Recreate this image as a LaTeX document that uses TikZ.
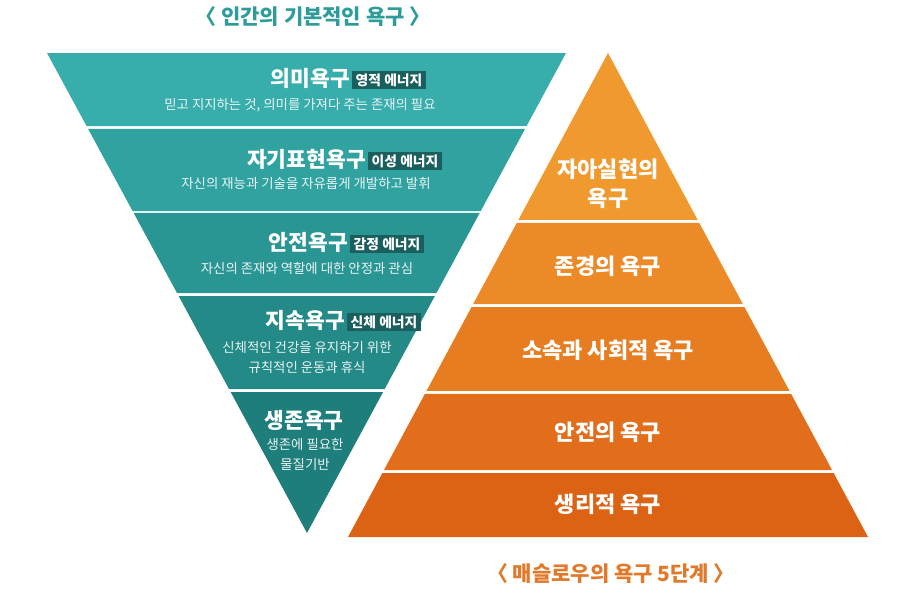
\documentclass[tikz,border=0pt]{standalone}
\usepackage{fontspec}
\newfontfamily\kr{Noto Sans CJK KR}
\usetikzlibrary{calc}
\definecolor{tA}{HTML}{37ADAC}
\definecolor{tB}{HTML}{30A2A0}
\definecolor{tC}{HTML}{2A9694}
\definecolor{tD}{HTML}{238A87}
\definecolor{tE}{HTML}{1E7E7B}
\definecolor{tagc}{HTML}{1A5F5E}
\definecolor{oA}{HTML}{F0992F}
\definecolor{oB}{HTML}{EC8A27}
\definecolor{oC}{HTML}{E77D21}
\definecolor{oD}{HTML}{E26E1B}
\definecolor{oE}{HTML}{DC6214}
\definecolor{ttl}{HTML}{2D9C9A}
\definecolor{otl}{HTML}{E07A2A}
\begin{document}
\begin{tikzpicture}[x=1pt,y=-1pt,
  head/.style={text=white,font=\kr\bfseries\fontsize{21.5}{24}\selectfont,inner sep=0pt},
  tagbox/.style={fill=tagc,text=white,font=\kr\bfseries\fontsize{13.8}{14}\selectfont,inner xsep=3.5pt,inner ysep=0pt,minimum height=18pt},
  sub/.style={text=white!92!teal,font=\kr\fontsize{13.4}{20}\selectfont,inner sep=0pt,align=center},
  pyr/.style={text=white,font=\kr\bfseries\fontsize{22}{29}\selectfont,inner sep=0pt,align=center},
  title/.style={font=\kr\bfseries\fontsize{21}{24}\selectfont,inner sep=0pt}]
\useasboundingbox (0,0) rectangle (922,614);
% teal inverted triangle
\coordinate (TL) at (47,53);
\coordinate (TR) at (566,53);
\coordinate (AP) at (307,533);
\fill[tA] ($(TL)!0!(AP)$) -- ($(TR)!0!(AP)$) -- ($(TR)!0.1521!(AP)$) -- ($(TL)!0.1521!(AP)$) -- cycle;
\fill[tB] ($(TL)!0.1583!(AP)$) -- ($(TR)!0.1583!(AP)$) -- ($(TR)!0.3292!(AP)$) -- ($(TL)!0.3292!(AP)$) -- cycle;
\fill[tC] ($(TL)!0.3333!(AP)$) -- ($(TR)!0.3333!(AP)$) -- ($(TR)!0.5!(AP)$) -- ($(TL)!0.5!(AP)$) -- cycle;
\fill[tD] ($(TL)!0.50625!(AP)$) -- ($(TR)!0.50625!(AP)$) -- ($(TR)!0.7!(AP)$) -- ($(TL)!0.7!(AP)$) -- cycle;
\fill[tE] ($(TL)!0.70625!(AP)$) -- ($(TR)!0.70625!(AP)$) -- (AP) -- cycle;
% orange pyramid
\coordinate (OA) at (608,53);
\coordinate (BL) at (348,537);
\coordinate (BR) at (868,537);
\fill[oA] (OA) -- ($(OA)!0.3450!(BR)$) -- ($(OA)!0.3450!(BL)$) -- cycle;
\fill[oB] ($(OA)!0.3512!(BL)$) -- ($(OA)!0.3512!(BR)$) -- ($(OA)!0.5186!(BR)$) -- ($(OA)!0.5186!(BL)$) -- cycle;
\fill[oC] ($(OA)!0.5248!(BL)$) -- ($(OA)!0.5248!(BR)$) -- ($(OA)!0.6983!(BR)$) -- ($(OA)!0.6983!(BL)$) -- cycle;
\fill[oD] ($(OA)!0.7045!(BL)$) -- ($(OA)!0.7045!(BR)$) -- ($(OA)!0.8616!(BR)$) -- ($(OA)!0.8616!(BL)$) -- cycle;
\fill[oE] ($(OA)!0.8678!(BL)$) -- ($(OA)!0.8678!(BR)$) -- (BR) -- (BL) -- cycle;
% titles
\node[title,text=ttl] (t1) at (313,17) {〈 인간의 기본적인 욕구 〉};
\node[title,text=otl] (t2) at (611,574) {〈 매슬로우의 욕구 5단계 〉};
% teal texts
\node[head,anchor=east] (h1) at (350,78) {의미욕구};
\node[tagbox,anchor=west] (g1) at (352,80) {영적 에너지};
\node[sub] (s1) at (300,105) {믿고 지지하는 것, 의미를 가져다 주는 존재의 필요};
\node[head,anchor=east] (h2) at (366,159) {자기표현욕구};
\node[tagbox,anchor=west] (g2) at (368,161) {이성 에너지};
\node[sub] (s2) at (306,183) {자신의 재능과 기술을 자유롭게 개발하고 발휘};
\node[head,anchor=east] (h3) at (348,242) {안전욕구};
\node[tagbox,anchor=west] (g3) at (350,244) {감정 에너지};
\node[sub] (s3) at (307,268) {자신의 존재와 역할에 대한 안정과 관심};
\node[head,anchor=east] (h4) at (345,320) {지속욕구};
\node[tagbox,anchor=west] (g4) at (347,322) {신체 에너지};
\node[sub] (s4) at (307,357) {신체적인 건강을 유지하기 위한\\규칙적인 운동과 휴식};
\node[head] (h5) at (304,420) {생존욕구};
\node[sub] (s5) at (305,454) {생존에 필요한\\물질기반};
% orange texts
\node[pyr] (p1) at (608,184) {자아실현의\\욕구};
\node[pyr] (p2) at (608,266) {존경의 욕구};
\node[pyr] (p3) at (608,350) {소속과 사회적 욕구};
\node[pyr] (p4) at (608,432) {안전의 욕구};
\node[pyr] (p5) at (608,504) {생리적 욕구};
\end{tikzpicture}
\end{document}
